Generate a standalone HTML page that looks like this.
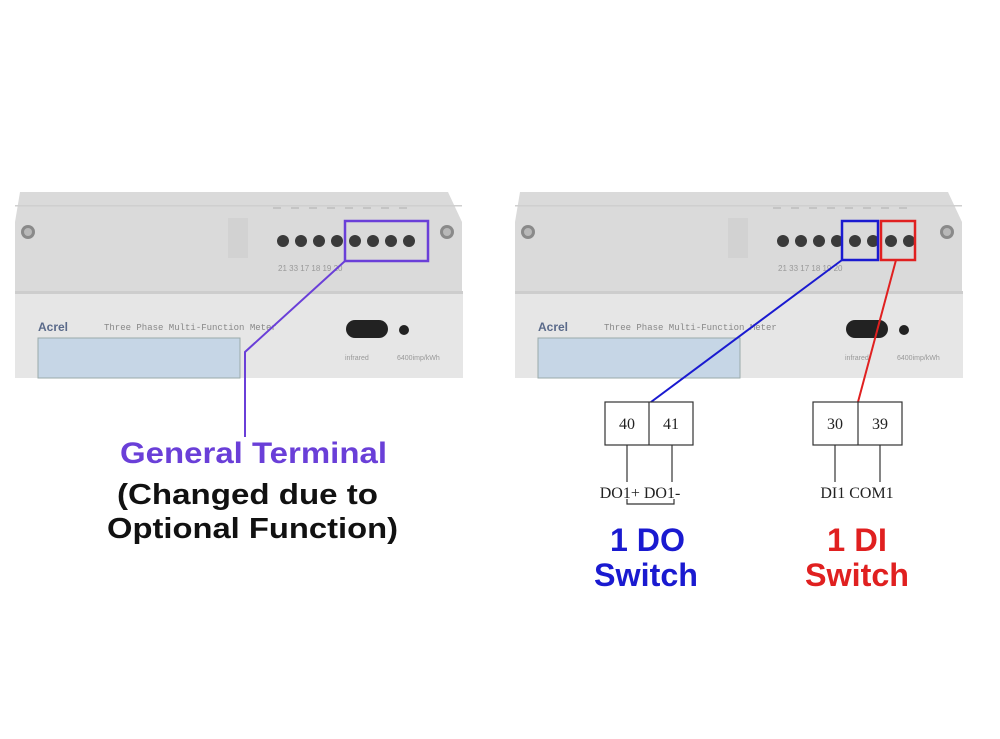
<!DOCTYPE html>
<html><head><style>body{margin:0;background:#fff}svg{display:block}</style></head><body>
<svg width="1000" height="739" viewBox="0 0 1000 739" xmlns="http://www.w3.org/2000/svg" font-family="Liberation Sans, sans-serif">
<defs>
<g id="meter">
  <polygon points="20,192 448,192 462,222 462,293 15,293 15,222" fill="#dadada"/>
  <rect x="15" y="205" width="447" height="1.5" fill="#cfcfcf"/>
  <rect x="15" y="293" width="448" height="85" fill="#e6e6e6"/>
  <rect x="15" y="291" width="448" height="3" fill="#cdcdcd"/>
  <rect x="228" y="218" width="20" height="40" fill="#d2d2d2"/>
  <circle cx="28" cy="232" r="7" fill="#8a8a8a"/><circle cx="28" cy="232" r="4" fill="#b8b8b8"/>
  <circle cx="447" cy="232" r="7" fill="#8a8a8a"/><circle cx="447" cy="232" r="4" fill="#b8b8b8"/>
  <g fill="#3a3a3a">
    <circle cx="283" cy="241" r="6"/><circle cx="301" cy="241" r="6"/><circle cx="319" cy="241" r="6"/><circle cx="337" cy="241" r="6"/>
    <circle cx="355" cy="241" r="6"/><circle cx="373" cy="241" r="6"/><circle cx="391" cy="241" r="6"/><circle cx="409" cy="241" r="6"/>
  </g>
  <g fill="#c4c4c4"><rect x="273" y="207" width="8" height="2"/><rect x="291" y="207" width="8" height="2"/><rect x="309" y="207" width="8" height="2"/><rect x="327" y="207" width="8" height="2"/><rect x="345" y="207" width="8" height="2"/><rect x="363" y="207" width="8" height="2"/><rect x="381" y="207" width="8" height="2"/><rect x="399" y="207" width="8" height="2"/></g>
  <text x="278" y="271" font-size="8" fill="#999">21 33 17 18 19 20</text>
  <text x="38" y="331" font-size="12" font-weight="bold" fill="#5a6a8a">Acrel</text>
  <text x="104" y="330" font-size="9" fill="#888" font-family="Liberation Mono, monospace">Three Phase Multi-Function Meter</text>
  <rect x="38" y="338" width="202" height="40" fill="#c6d6e6" stroke="#9aa" stroke-width="1"/>
  <rect x="346" y="320" width="42" height="18" rx="9" fill="#222"/>
  <circle cx="404" cy="330" r="5" fill="#222"/>
  <text x="345" y="360" font-size="7" fill="#999">infrared</text>
  <text x="397" y="360" font-size="7" fill="#999">6400imp/kWh</text>
</g>
</defs>
<use href="#meter"/>
<use href="#meter" transform="translate(500,0)"/>

<rect x="345" y="221" width="83" height="40" fill="none" stroke="#6a3fd8" stroke-width="2.5"/>
<polyline points="345,261 245,352 245,437" fill="none" stroke="#6a3fd8" stroke-width="2"/>
<text x="120" y="463" font-size="30" font-weight="bold" fill="#6a3fd8" textLength="267" lengthAdjust="spacingAndGlyphs">General Terminal</text>
<text x="117" y="504" font-size="29" font-weight="bold" fill="#111" textLength="261" lengthAdjust="spacingAndGlyphs">(Changed due to</text>
<text x="107" y="538" font-size="29" font-weight="bold" fill="#111" textLength="291" lengthAdjust="spacingAndGlyphs">Optional Function)</text>

<rect x="842" y="221" width="36" height="39" fill="none" stroke="#1a1ad0" stroke-width="2.5"/>
<rect x="881" y="221" width="34" height="39" fill="none" stroke="#e02020" stroke-width="2.5"/>
<line x1="842" y1="260" x2="651" y2="402" stroke="#1a1ad0" stroke-width="2"/>
<line x1="896" y1="260" x2="858" y2="402" stroke="#e02020" stroke-width="2"/>

<g stroke="#333" stroke-width="1.2" fill="none">
  <rect x="605" y="402" width="88" height="43"/><line x1="649" y1="402" x2="649" y2="445"/>
  <line x1="627" y1="445" x2="627" y2="482"/><line x1="672" y1="445" x2="672" y2="482"/>
  <polyline points="627,499 627,504 674,504 674,499"/>
  <rect x="813" y="402" width="89" height="43"/><line x1="858" y1="402" x2="858" y2="445"/>
  <line x1="835" y1="445" x2="835" y2="482"/><line x1="880" y1="445" x2="880" y2="482"/>
</g>
<g font-family="Liberation Serif, serif" font-size="16" fill="#222" text-anchor="middle">
  <text x="627" y="429">40</text><text x="671" y="429">41</text>
  <text x="835" y="429">30</text><text x="880" y="429">39</text>
  <text x="640" y="498">DO1+ DO1-</text>
  <text x="857" y="498">DI1 COM1</text>
</g>
<g font-size="32" font-weight="bold">
  <text x="610" y="551" fill="#1a1ad0" textLength="75" lengthAdjust="spacingAndGlyphs">1 DO</text>
  <text x="594" y="586" fill="#1a1ad0" textLength="104" lengthAdjust="spacingAndGlyphs">Switch</text>
  <text x="827" y="551" fill="#e02020" textLength="60" lengthAdjust="spacingAndGlyphs">1 DI</text>
  <text x="805" y="586" fill="#e02020" textLength="104" lengthAdjust="spacingAndGlyphs">Switch</text>
</g>
</svg>
</body></html>
